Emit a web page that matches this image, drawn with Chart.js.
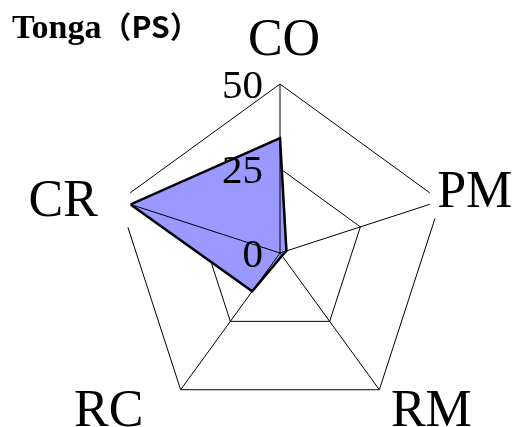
<!DOCTYPE html>
<html lang="en">
<head>
  <meta charset="UTF-8">
  <title>Tonga (PS)</title>
  <script src="https://cdn.jsdelivr.net/npm/chart.js"></script>
  <style>
    html, body { margin: 0; padding: 0; background: #fff; overflow: hidden; }
    canvas { display: block; }
  </style>
</head>
<body>
  <canvas id="radar" width="516" height="427"></canvas>
  <script>
    // values
    const categories = ['CO', 'PM', 'RM', 'RC', 'CR'];
    const values = [34, 2, 1, 14, 46.5];
    const tickValues = [0, 25, 50];
    const titleMain = 'Tonga';
    const titleSuffix = '（PS）';

    // label nudges (px) from each axis end, to sit labels as in the original
    const labelNudge = [[4, -47], [34, -11], [52, 19], [-72, 19], [-56, -2]];

    const serif = "'Liberation Serif', 'DejaVu Serif', serif";

    const overlay = {
      id: 'overlay',
      afterDatasetsDraw(chart) {
        const s = chart.scales.r;
        const ctx = chart.ctx;
        ctx.save();

        // spokes sit on top of the filled area
        ctx.strokeStyle = '#000';
        ctx.lineWidth = 1;
        categories.forEach((_, i) => {
          const p = s.getPointPosition(i, s.drawingArea);
          ctx.beginPath();
          ctx.moveTo(s.xCenter, s.yCenter);
          ctx.lineTo(p.x, p.y);
          ctx.stroke();
        });

        // axis names with a white backdrop
        ctx.font = '52px ' + serif;
        ctx.textBaseline = 'alphabetic';
        ctx.textAlign = 'left';
        categories.forEach((name, i) => {
          const p = s.getPointPosition(i, s.drawingArea);
          const m = ctx.measureText(name);
          const capH = m.actualBoundingBoxAscent;
          const cx = p.x + labelNudge[i][0];
          const cy = p.y + labelNudge[i][1];
          const left = cx - m.width / 2;
          const base = cy + capH / 2;
          let bl = left - 4, br = left + m.width + 4;
          const ang = s.getIndexAngle(i);
          if (Math.abs(Math.cos(ang)) < 0.5) {
            if (Math.sin(ang) > 0) bl = Math.min(bl, p.x - 11);
            else br = Math.max(br, p.x + 11);
          }
          ctx.fillStyle = '#fff';
          ctx.fillRect(bl, base - m.fontBoundingBoxAscent, br - bl,
            m.fontBoundingBoxAscent + m.fontBoundingBoxDescent);
          ctx.fillStyle = '#000';
          ctx.fillText(name, left, base);
        });

        // scale numbers, right of them is the vertical axis
        ctx.font = '41px ' + serif;
        ctx.textAlign = 'right';
        s.ticks.forEach(t => {
          const y = s.yCenter - s.getDistanceFromCenterForValue(t.value);
          ctx.fillText(String(t.value), s.xCenter - 17, y + 14);
        });

        // title
        ctx.textAlign = 'left';
        ctx.font = 'bold 34px ' + serif;
        ctx.fillText(titleMain, 12, 38);
        const w = ctx.measureText(titleMain).width;
        ctx.font = "bold 30px 'Noto Sans CJK SC', 'Noto Sans', sans-serif";
        ctx.fillText(titleSuffix, 12 + w, 38);

        ctx.restore();
      }
    };

    new Chart(document.getElementById('radar'), {
      type: 'radar',
      data: {
        labels: categories,
        datasets: [{
          data: values,
          borderColor: '#000',
          borderWidth: 2.5,
          backgroundColor: '#9999ff',
          fill: true,
          pointRadius: 0,
          tension: 0
        }]
      },
      options: {
        responsive: false,
        animation: false,
        layout: { padding: { left: 111, right: 67, top: 84, bottom: 5 } },
        plugins: {
          legend: { display: false },
          tooltip: { enabled: false }
        },
        scales: {
          r: {
            min: tickValues[0],
            max: tickValues[tickValues.length - 1],
            ticks: { stepSize: tickValues[1] - tickValues[0], display: false },
            grid: { color: '#000', lineWidth: 1 },
            angleLines: { display: false },
            pointLabels: { display: false }
          }
        }
      },
      plugins: [overlay]
    });
  </script>
</body>
</html>
